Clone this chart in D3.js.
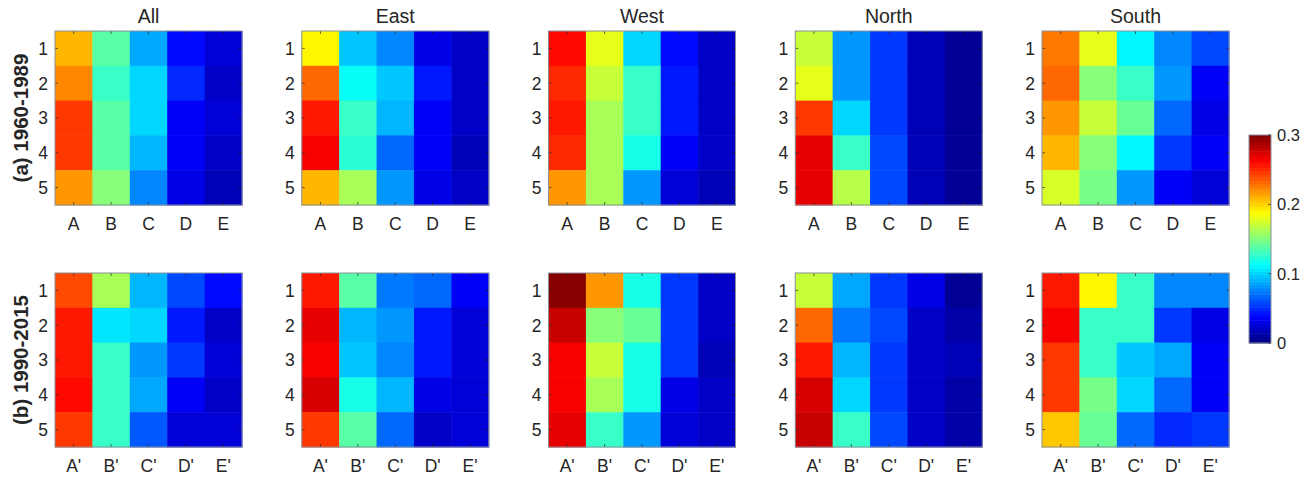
<!DOCTYPE html>
<html><head><meta charset="utf-8">
<script src="https://cdn.jsdelivr.net/npm/d3@7"></script>
<style>body{margin:0;background:#fff}svg{display:block}text{font-family:Arial,"Liberation Sans",sans-serif;fill:#262626}</style>
</head><body><svg id="c" width="1314" height="480"></svg>
<script>
const regions = ["All","East","West","North","South"];
const periods = ["(a) 1960-1989","(b) 1990-2015"];
const rowLabels = ["1","2","3","4","5"];
const colLabelsA = ["A","B","C","D","E"];
const colLabelsB = ["A'","B'","C'","D'","E'"];
const cbTicks = [0,0.1,0.2,0.3];

// period (a) 1960-1989 : rows 1..5, columns A..E
const allA = [[0.210,0.139,0.085,0.040,0.026],[0.221,0.128,0.101,0.049,0.022],[0.244,0.138,0.100,0.035,0.024],[0.246,0.140,0.090,0.034,0.022],[0.217,0.150,0.075,0.030,0.017]];
const eastA = [[0.188,0.098,0.075,0.031,0.021],[0.234,0.113,0.098,0.045,0.022],[0.255,0.127,0.090,0.034,0.022],[0.263,0.125,0.070,0.034,0.017],[0.208,0.160,0.080,0.032,0.019]];
const westA = [[0.260,0.180,0.103,0.040,0.019],[0.250,0.169,0.131,0.046,0.021],[0.255,0.160,0.131,0.046,0.021],[0.250,0.160,0.121,0.037,0.021],[0.220,0.160,0.080,0.026,0.017]];
const northA = [[0.169,0.080,0.056,0.015,0.008],[0.180,0.080,0.056,0.015,0.008],[0.244,0.103,0.056,0.015,0.008],[0.271,0.131,0.060,0.015,0.008],[0.271,0.165,0.060,0.015,0.008]];
const southA = [[0.225,0.180,0.108,0.075,0.060],[0.232,0.154,0.131,0.080,0.034],[0.220,0.169,0.141,0.070,0.032],[0.208,0.154,0.108,0.052,0.034],[0.174,0.146,0.080,0.034,0.026]];
// period (b) 1990-2015 : rows 1..5, columns A'..E'
const allB = [[0.240,0.160,0.090,0.060,0.040],[0.255,0.105,0.100,0.045,0.022],[0.255,0.127,0.080,0.052,0.026],[0.260,0.127,0.087,0.037,0.022],[0.244,0.131,0.064,0.028,0.028]];
const eastB = [[0.255,0.138,0.071,0.066,0.037],[0.271,0.092,0.080,0.045,0.024],[0.263,0.098,0.075,0.046,0.026],[0.276,0.118,0.090,0.031,0.024],[0.244,0.138,0.066,0.019,0.024]];
const westB = [[0.300,0.220,0.118,0.052,0.022],[0.281,0.150,0.141,0.052,0.019],[0.263,0.171,0.121,0.052,0.017],[0.263,0.160,0.121,0.031,0.021],[0.271,0.131,0.080,0.026,0.019]];
const northB = [[0.172,0.087,0.056,0.030,0.008],[0.232,0.071,0.060,0.019,0.011],[0.255,0.090,0.054,0.022,0.015],[0.276,0.101,0.054,0.019,0.011],[0.281,0.127,0.060,0.019,0.011]];
const southB = [[0.255,0.188,0.127,0.075,0.075],[0.263,0.131,0.127,0.056,0.031],[0.248,0.131,0.094,0.085,0.034],[0.244,0.146,0.100,0.067,0.034],[0.203,0.141,0.069,0.049,0.056]];

const panelValues = [[allA,eastA,westA,northA,southA],[allB,eastB,westB,northB,southB]];

function jet(t){
  const c = v => Math.max(0, Math.min(1, v));
  const r = c(1.5 - Math.abs(4*t - 3)), g = c(1.5 - Math.abs(4*t - 2)), b = c(1.5 - Math.abs(4*t - 1));
  return d3.rgb(r*255, g*255, b*255).toString();
}
const nLevels = 64;
const color = v => {
  const t = Math.max(0, Math.min(1, v / 0.3));
  const i = Math.min(nLevels - 1, Math.floor(t * nLevels));
  return jet((i + 0.5) / nLevels);
};

const svg = d3.select("#c");
const panelW = 187, panelH = 174;
const px = d3.scaleLinear().domain([0,4]).range([55,1042]);
const py = d3.scaleLinear().domain([0,1]).range([31,273]);

periods.forEach((per, pi) => {
  const cols = pi === 0 ? colLabelsA : colLabelsB;
  regions.forEach((reg, ri) => {
    const data = panelValues[pi][ri];
    const g = svg.append("g").attr("transform", `translate(${px(ri)},${py(pi)})`);
    const x = d3.scaleBand().domain(cols).range([0, panelW]);
    const y = d3.scaleBand().domain(rowLabels).range([0, panelH]);
    const cells = [];
    data.forEach((row, r) => row.forEach((v, c) => cells.push({r: rowLabels[r], c: cols[c], v})));
    g.selectAll("rect.cell").data(cells).join("rect").attr("class","cell")
      .attr("x", d => x(d.c)).attr("y", d => y(d.r))
      .attr("width", x.bandwidth() + 0.5).attr("height", y.bandwidth() + 0.5)
      .attr("fill", d => color(d.v));
    const tl = 3;
    g.selectAll("line.tx").data(cols).join("line").attr("class","tx")
      .attr("x1", d => x(d) + x.bandwidth()/2).attr("x2", d => x(d) + x.bandwidth()/2)
      .attr("y1", 0).attr("y2", tl).attr("stroke","#262626").attr("stroke-width",0.7);
    g.selectAll("line.bx").data(cols).join("line").attr("class","bx")
      .attr("x1", d => x(d) + x.bandwidth()/2).attr("x2", d => x(d) + x.bandwidth()/2)
      .attr("y1", panelH).attr("y2", panelH - tl).attr("stroke","#262626").attr("stroke-width",0.7);
    g.selectAll("line.ly").data(rowLabels).join("line").attr("class","ly")
      .attr("y1", d => y(d) + y.bandwidth()/2).attr("y2", d => y(d) + y.bandwidth()/2)
      .attr("x1", 0).attr("x2", tl).attr("stroke","#262626").attr("stroke-width",0.7);
    g.selectAll("line.ry").data(rowLabels).join("line").attr("class","ry")
      .attr("y1", d => y(d) + y.bandwidth()/2).attr("y2", d => y(d) + y.bandwidth()/2)
      .attr("x1", panelW).attr("x2", panelW - tl).attr("stroke","#262626").attr("stroke-width",0.7);
    g.append("rect").attr("width", panelW).attr("height", panelH)
      .attr("fill","none").attr("stroke","#8a8f99").attr("stroke-width",1);
    g.selectAll("text.xl").data(cols).join("text").attr("class","xl")
      .attr("x", d => x(d) + x.bandwidth()/2).attr("y", panelH + 25)
      .attr("text-anchor","middle").style("font-size","17.5px").text(d => d);
    g.selectAll("text.yl").data(rowLabels).join("text").attr("class","yl")
      .attr("x", -7).attr("y", d => y(d) + y.bandwidth()/2).attr("dy","0.36em")
      .attr("text-anchor","end").style("font-size","17.5px").text(d => d);
    if (pi === 0) {
      g.append("text").attr("x", panelW/2).attr("y", -8).attr("text-anchor","middle")
        .style("font-size","19.5px").text(reg);
    }
    if (ri === 0) {
      g.append("text").attr("transform", `translate(-27,${panelH/2}) rotate(-90)`)
        .attr("text-anchor","middle").style("font-size","20.5px").style("font-weight","bold").text(per);
    }
  });
});

// colorbar
const cbX = 1249, cbW = 22, cbTop = 135, cbBot = 343;
const cy = d3.scaleLinear().domain([0,0.3]).range([cbBot, cbTop]);
const levels = d3.range(nLevels);
const cb = svg.append("g");
cb.selectAll("rect").data(levels).join("rect")
  .attr("x", cbX).attr("width", cbW)
  .attr("y", d => cy((d+1)*0.3/nLevels)).attr("height", d => cy(d*0.3/nLevels) - cy((d+1)*0.3/nLevels) + 0.5)
  .attr("fill", d => jet((d+0.5)/nLevels));
cb.append("rect").attr("x", cbX).attr("y", cbTop).attr("width", cbW).attr("height", cbBot - cbTop)
  .attr("fill","none").attr("stroke","#8a8f99").attr("stroke-width",1);
cb.selectAll("line.t").data(cbTicks).join("line").attr("class","t")
  .attr("x1", cbX + cbW).attr("x2", cbX + cbW - 3).attr("y1", d => cy(d)).attr("y2", d => cy(d))
  .attr("stroke","#262626").attr("stroke-width",0.7);
cb.selectAll("text").data(cbTicks).join("text")
  .attr("x", cbX + cbW + 6).attr("y", d => cy(d)).attr("dy","0.36em")
  .style("font-size","16.5px").text(d => d === 0 ? "0" : d3.format(".1f")(d));
</script></body></html>
